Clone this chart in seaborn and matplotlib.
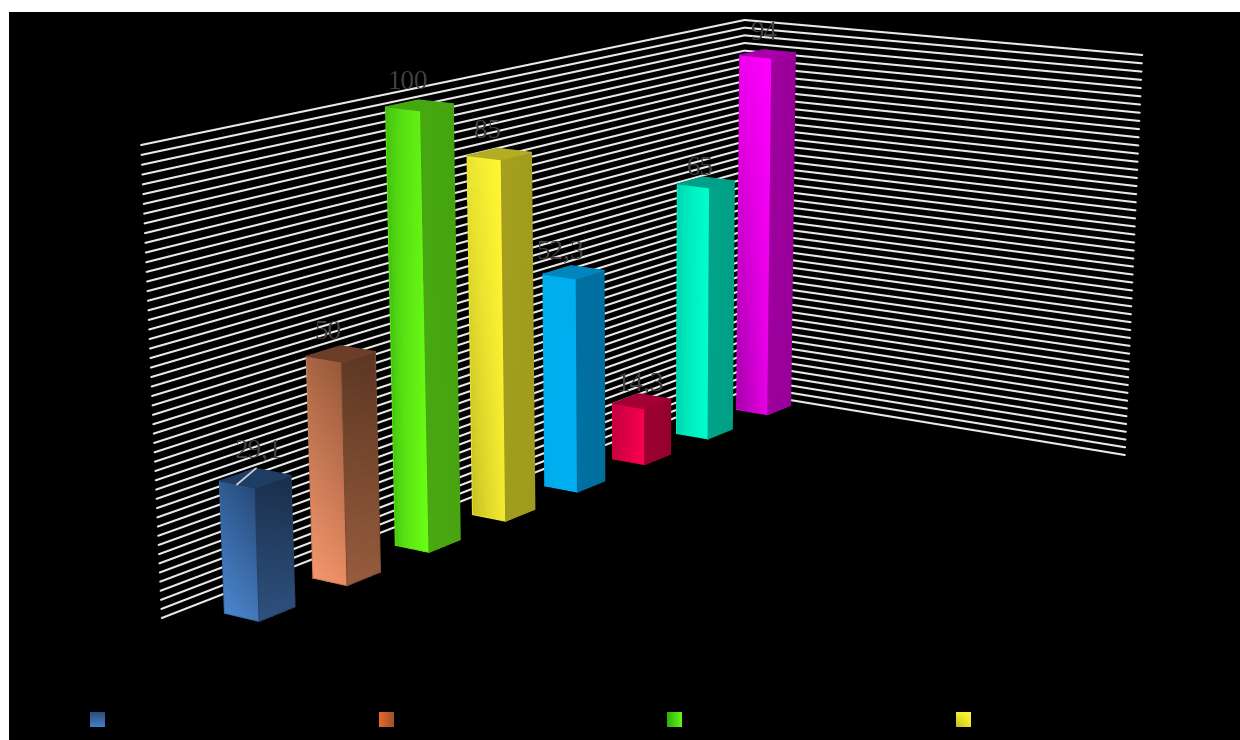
import numpy as np
import seaborn as sns
import matplotlib
matplotlib.use("Agg")
import matplotlib.pyplot as plt
from matplotlib.colors import to_rgb

# Values
categories = ["A", "B", "C", "D", "E", "F", "G", "H"]
values = [29.1, 50, 100, 85, 52.3, 14.3, 65, 94]
value_labels = ["29,1", "50", "100", "85", "52,3", "14,3", "65", "94"]
y_max = 100
y_step = 2

# Face colours: bottom-left, bottom-right, top-left, top-right
left_faces = [
    ["#4a86d0", "#4478b8", "#2e5a90", "#264a78"],
    ["#f4966c", "#e88c64", "#a86644", "#96583a"],
    ["#3cb810", "#6cff14", "#3ab010", "#62f014"],
    ["#c4bc24", "#f4ec30", "#e8e230", "#fff733"],
    ["#00acee", "#00aef2", "#00aeee", "#00aef0"],
    ["#c8003e", "#ff0052", "#c00040", "#f8004e"],
    ["#00c4a4", "#00ffcc", "#00c8a8", "#00ffcc"],
    ["#a400a8", "#e800e8", "#ee00ee", "#ff00ff"],
]
left_ramp = [1, 1, 0.45, 0.8, 1, 1, 0.45, 1]
right_faces = [
    ["#2e517e", "#2c4e7a", "#1c3352", "#1a2e4a"],
    ["#985c3e", "#945a3c", "#5f3a24", "#5c3622"],
    ["#4aa812", "#48a410", "#46a810", "#44a410"],
    ["#a29c1e", "#a09a1e", "#a6a020", "#a29c1e"],
    ["#0070a2", "#006e9e", "#0070a2", "#006e9e"],
    ["#9a0030", "#96002e", "#9a0030", "#96002e"],
    ["#00a288", "#00a086", "#00a48a", "#00a086"],
    ["#9c009c", "#980098", "#a000a0", "#980098"],
]
top_faces = ["#1f3c64", "#6a3e28", "#46a810", "#b3ad24", "#0085bf", "#a50035", "#00a088", "#a800a8"]
legend_faces = [
    ["#4480c8", "#4480c8", "#2a4c78", "#2a4c78"],
    ["#e8682c", "#a05028", "#e8682c", "#a05028"],
    ["#2eae0c", "#66f814", "#2eae0c", "#66f814"],
    ["#c0b820", "#f0e82c", "#f4ec30", "#fff733"],
]

# Camera: wall corners (world box 0..1) to pixels, fitted by DLT
box_world = [(0, 0, 0), (0, 1, 0), (1, 0, 0), (1, 1, 0), (1, 1, 1), (1, 0, 1)]
box_pixels = [(162, 618), (141, 145), (741, 392), (745, 20), (1142, 55), (1125, 455)]
rows = []
for (X, Y, Z), (u, v) in zip(box_world, box_pixels):
    rows.append([X, Y, Z, 1, 0, 0, 0, 0, -u * X, -u * Y, -u * Z, -u])
    rows.append([0, 0, 0, 0, X, Y, Z, 1, -v * X, -v * Y, -v * Z, -v])
camera = np.linalg.svd(np.array(rows))[2][-1].reshape(3, 4)


def project(X, Y, Z):
    X, Y, Z = np.broadcast_arrays(X, Y, Z)
    h = camera @ np.stack([X.ravel(), Y.ravel(), Z.ravel(), np.ones(X.size)])
    return (h[0] / h[2]).reshape(X.shape), (h[1] / h[2]).reshape(X.shape)


def gradient(corners, n=24, ramp=1):
    bl, br, tl, tr = [np.array(to_rgb(c)) for c in corners]
    s = (np.arange(n) + 0.5) / n
    u, v = np.meshgrid(s ** ramp, s)
    u, v = u[..., None], v[..., None]
    return (bl * (1 - u) + br * u) * (1 - v) + (tl * (1 - u) + tr * u) * v


def draw_face(ax, X, Y, Z, corners, z, ramp=1):
    # X, Y, Z are 2x2 arrays of face corners, refined to a grid for the gradient
    n = 24
    e = np.linspace(0, 1, n + 1)
    u, v = np.meshgrid(e, e)
    bilerp = lambda a: (a[0, 0] * (1 - u) + a[0, 1] * u) * (1 - v) + (a[1, 0] * (1 - u) + a[1, 1] * u) * v
    px, py = project(bilerp(X), bilerp(Y), bilerp(Z))
    rgb = gradient(corners, n, ramp)
    ax.pcolormesh(px, py, rgb, shading="flat", antialiased=False, linewidth=0, zorder=z)
    edge = rgb.mean(axis=(0, 1))
    ax.plot(np.r_[px[0], px[:, -1], px[-1][::-1], px[:, 0][::-1]],
            np.r_[py[0], py[:, -1], py[-1][::-1], py[:, 0][::-1]],
            color=edge, lw=0.7, zorder=z, solid_joinstyle="round")


sns.set_theme(style="dark", rc={"axes.grid": False})
plt.rcParams["font.family"] = ["Liberation Serif", "DejaVu Serif"]

fig = plt.figure(figsize=(12.4, 7.4), dpi=100, facecolor="white")

# seaborn lays the bars out; they are then extruded through the camera
helper = fig.add_axes([0, 0, 0.1, 0.1])
sns.barplot(x=categories, y=values, width=0.40, ax=helper)
helper.set_visible(False)
bars = list(helper.patches)[:len(values)]

ax = fig.add_axes([9 / 1240, 0, 1231 / 1240, 728 / 740], facecolor="black")
ax.set_xlim(9, 1240)
ax.set_ylim(740, 12)
ax.set_axis_off()
fig.patches.append(plt.Rectangle((9 / 1240, -0.01), 1.01, 728 / 740 + 0.01, transform=fig.transFigure,
                                 facecolor="black", linewidth=0, zorder=-5))

# wall grid lines
x_start, x_step = 0.0675, 0.1266
z_back, z_front = 0.078, 0.163
for level in np.arange(0, y_max + y_step, y_step) / y_max:
    wx, wy = project(np.array([0.0, 1.0, 1.0]), level, np.array([0.0, 0.0, 1.0]))
    ax.plot(wx, wy, color="#e8e8e8", lw=1.5, zorder=1, solid_joinstyle="miter")

# bars from the corner outwards, so nearer ones paint last
tops = []
for i in range(len(bars) - 1, -1, -1):
    bar = bars[i]
    xl = x_start + x_step * bar.get_x()
    xr = xl + x_step * bar.get_width()
    h = bar.get_height() / y_max * 0.995
    base = 10 + (len(bars) - i) * 3
    draw_face(ax, np.full((2, 2), xl), np.array([[0, 0], [h, h]]),
              np.array([[z_back, z_front], [z_back, z_front]]), left_faces[i], base, left_ramp[i])
    draw_face(ax, np.array([[xl, xr], [xl, xr]]), np.array([[0, 0], [h, h]]),
              np.full((2, 2), z_front), right_faces[i], base + 1)
    draw_face(ax, np.array([[xl, xr], [xl, xr]]), np.full((2, 2), h),
              np.array([[z_front, z_front], [z_back, z_back]]), [top_faces[i]] * 4, base + 2)
    tops.insert(0, (xl, xr, h))

# data labels, nudged from the centre of each bar top
label_dx = [3, -13, -12, -12, -13, -1, -6, -4]
label_dy = [-27, -21, -23, -22, -20, -17, -14, -20]
for i, text in enumerate(value_labels):
    xl, xr, h = tops[i]
    cx, cy = project((xl + xr) / 2, h, (z_back + z_front) / 2)
    ax.text(float(cx) + label_dx[i], float(cy) + label_dy[i], text, color="#404040", fontsize=19.5,
            ha="center", va="center", zorder=60)

# leader line of the first label
xl, xr, h = tops[0]
lx, ly = project(np.array([xl, xr]), h, np.array([(z_back + z_front) / 2, z_back]))
ax.plot(lx, ly, color="#cccccc", lw=1.3, zorder=61)

# legend keys (their labels are black on black in the source)
for i, corners in enumerate(legend_faces):
    x0 = 90 + 288.5 * i
    gx, gy = np.meshgrid(np.linspace(x0, x0 + 15, 16), np.linspace(727, 712, 16))
    ax.pcolormesh(gx, gy, gradient(corners, 15), shading="flat", antialiased=False, zorder=5)

fig.savefig("out.png", dpi=100, facecolor="white")
